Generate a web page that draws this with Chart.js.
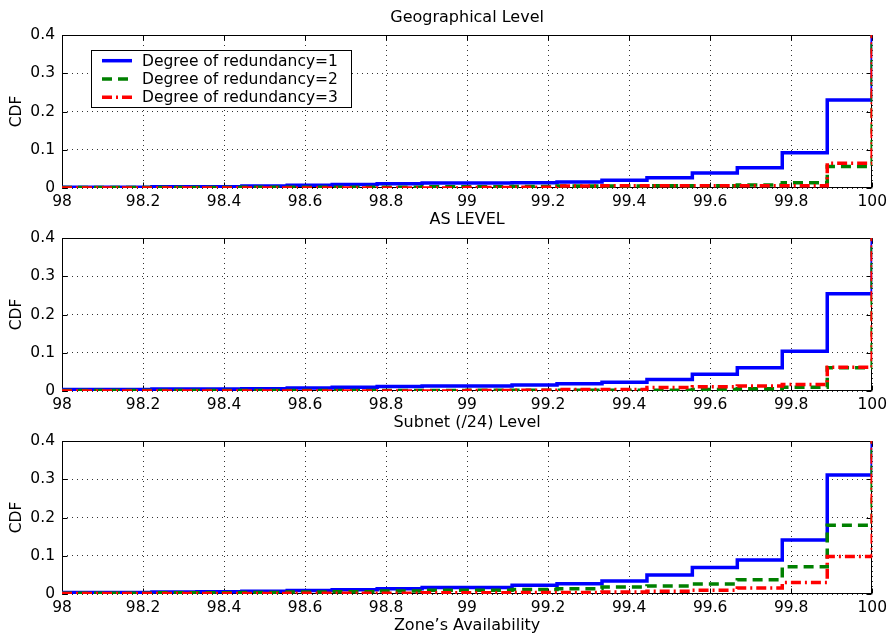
<!DOCTYPE html>
<html><head><meta charset="utf-8">
<script src="https://cdn.jsdelivr.net/npm/chart.js@4/dist/chart.umd.min.js"></script>
<style>
html,body{margin:0;padding:0;background:#fff;}
#wrap{position:relative;width:892px;height:635px;overflow:hidden;background:#fff;}
canvas{position:absolute;left:0;}
</style></head><body>
<div id="wrap">
<canvas id="c1" width="892" height="212" style="top:0px"></canvas>
<canvas id="c2" width="892" height="212" style="top:204px"></canvas>
<canvas id="c3" width="892" height="230" style="top:405px"></canvas>
</div>
<script>
// ---- data ----
const availability = [98.000, 98.111, 98.222, 98.333, 98.444, 98.556, 98.667, 98.778, 98.889, 99.000,
                      99.111, 99.222, 99.333, 99.444, 99.556, 99.667, 99.778, 99.889, 100.000];
const seriesLabels = ['Degree of redundancy=1', 'Degree of redundancy=2', 'Degree of redundancy=3'];

const geoR1 = [0.002,0.002,0.003,0.003,0.005,0.007,0.009,0.011,0.013,0.013,0.014,0.016,0.020,0.027,0.039,0.053,0.092,0.230,1];
const geoR2 = [0.001,0.001,0.001,0.001,0.002,0.002,0.002,0.002,0.003,0.003,0.004,0.005,0.005,0.006,0.006,0.008,0.014,0.056,1];
const geoR3 = [0,0,0,0,0,0,0,0,0,0.001,0.002,0.005,0.006,0.006,0.006,0.006,0.006,0.065,1];

const asR1 = [0.004,0.004,0.005,0.005,0.006,0.008,0.010,0.012,0.013,0.013,0.016,0.019,0.023,0.030,0.044,0.061,0.104,0.254,1];
const asR2 = [0.001,0.001,0.001,0.001,0.001,0.001,0.001,0.001,0.001,0.002,0.002,0.002,0.002,0.002,0.004,0.006,0.010,0.061,1];
const asR3 = [0,0,0,0,0,0,0,0,0,0.001,0.002,0.004,0.004,0.009,0.011,0.013,0.017,0.062,1];

const subnetR1 = [0.004,0.004,0.005,0.006,0.007,0.009,0.011,0.014,0.017,0.017,0.023,0.027,0.034,0.050,0.069,0.089,0.141,0.311,1];
const subnetR2 = [0.002,0.002,0.003,0.003,0.004,0.005,0.006,0.008,0.010,0.010,0.012,0.014,0.018,0.021,0.026,0.037,0.071,0.180,1];
const subnetR3 = [0.001,0.001,0.001,0.001,0.001,0.002,0.002,0.002,0.003,0.003,0.004,0.004,0.005,0.007,0.010,0.016,0.030,0.098,1];

const xTickValues = [98, 98.2, 98.4, 98.6, 98.8, 99, 99.2, 99.4, 99.6, 99.8, 100];
const xTickLabels = ['98','98.2','98.4','98.6','98.8','99','99.2','99.4','99.6','99.8','100'];
const yTickValues = [0, 0.1, 0.2, 0.3, 0.4];
const yTickLabels = ['0','0.1','0.2','0.3','0.4'];
const panelTitles = ['Geographical Level', 'AS LEVEL', 'Subnet (/24) Level'];
const yAxisTitle = 'CDF';
const xAxisTitle = 'Zone\u2019s Availability';

// ---- styles ----
const FONT = 'DejaVu Sans';
const seriesStyles = [
  {color:'#0000ff', width:3.5, dash:[], order:3},
  {color:'#008000', width:3.5, dash:[10,6], order:2},
  {color:'#ff0000', width:3.5, dash:[10,4,2,4], order:1}
];

const framePlugin = {
  id: 'frame',
  beforeDatasetsDraw(chart) {
    const {ctx, chartArea: a, scales} = chart;
    const x = scales.x, y = scales.y;
    ctx.save();
    ctx.strokeStyle = '#000';
    ctx.lineWidth = 1;
    const L = Math.round(a.left) + 0.5, R = Math.round(a.right) - 0.5;
    const T = Math.round(a.top) + 0.5, B = Math.round(a.bottom) - 0.5;
    ctx.strokeRect(L, T, R - L, B - T);
    ctx.beginPath();
    x.ticks.forEach(t => {
      const px = Math.round(x.getPixelForValue(t.value)) + 0.5;
      ctx.moveTo(px, B); ctx.lineTo(px, B - 5);
      ctx.moveTo(px, T); ctx.lineTo(px, T + 5);
    });
    y.ticks.forEach(t => {
      const py = Math.round(y.getPixelForValue(t.value)) + 0.5;
      ctx.moveTo(L, py); ctx.lineTo(L + 5, py);
      ctx.moveTo(R, py); ctx.lineTo(R - 5, py);
    });
    ctx.stroke();
    ctx.restore();
  }
};

const legendPlugin = {
  id: 'innerLegend',
  afterDraw(chart, args, opts) {
    if (!opts || !opts.show) return;
    const ctx = chart.ctx;
    ctx.save();
    ctx.fillStyle = '#fff';
    ctx.fillRect(opts.x, opts.y, opts.w, opts.h);
    ctx.strokeStyle = '#000';
    ctx.lineWidth = 1;
    ctx.strokeRect(opts.x + 0.5, opts.y + 0.5, opts.w, opts.h);
    ctx.font = opts.fontSize + 'px "' + FONT + '"';
    ctx.textBaseline = 'middle';
    ctx.textAlign = 'left';
    chart.data.datasets.forEach((ds, i) => {
      const ry = opts.y + opts.rowStart + i * opts.rowGap;
      ctx.strokeStyle = ds.borderColor;
      ctx.lineWidth = ds.borderWidth;
      ctx.setLineDash(ds.borderDash || []);
      ctx.beginPath();
      ctx.moveTo(opts.x + 11, ry);
      ctx.lineTo(opts.x + 41, ry);
      ctx.stroke();
      ctx.setLineDash([]);
      ctx.fillStyle = '#000';
      ctx.fillText(ds.label, opts.x + 51, ry + 1);
    });
    ctx.restore();
  }
};

function makeChart(id, title, series, cfg) {
  const datasets = series.map((vals, i) => ({
    label: seriesLabels[i],
    data: availability.map((x, j) => ({x: x, y: vals[j]})),
    borderColor: seriesStyles[i].color,
    backgroundColor: seriesStyles[i].color,
    borderWidth: seriesStyles[i].width,
    borderDash: seriesStyles[i].dash,
    order: seriesStyles[i].order,
    stepped: 'before',
    pointRadius: 0,
    fill: false,
    tension: 0
  }));
  return new Chart(document.getElementById(id), {
    type: 'line',
    data: {datasets},
    plugins: [framePlugin, legendPlugin],
    options: {
      responsive: false,
      animation: false,
      devicePixelRatio: 1,
      layout: {padding: {left: 0, right: 17, top: 0, bottom: 0}, autoPadding: false},
      plugins: {
        legend: {display: false},
        tooltip: {enabled: false},
        title: {display: false},
        innerLegend: cfg.legend || {show: false}
      },
      scales: {
        xTop: {
          type: 'linear', position: 'top', min: 98, max: 100,
          afterFit: s => { s.height = cfg.topHeight; },
          ticks: {display: false},
          grid: {display: false, drawTicks: false},
          border: {display: false},
          title: {
            display: true, text: title, color: '#000',
            font: {family: FONT, size: 16}, padding: {top: cfg.tTop, bottom: 0}
          }
        },
        x: {
          type: 'linear', position: 'bottom', min: 98, max: 100,
          afterBuildTicks: s => { s.ticks = xTickValues.map(v => ({value: v})); },
          afterFit: s => { s.height = cfg.xHeight; },
          ticks: {
            color: '#000', padding: 5, maxRotation: 0, autoSkip: false,
            font: {family: FONT, size: 15.5},
            callback: (v, i) => xTickLabels[i]
          },
          grid: {color: 'rgba(0,0,0,0.8)', lineWidth: 1, drawTicks: false},
          border: {display: false, dash: [1, 4]},
          title: {
            display: !!cfg.xTitle, text: xAxisTitle, color: '#000',
            font: {family: FONT, size: 16}, padding: {top: 0, bottom: 0}
          }
        },
        y: {
          type: 'linear', min: 0, max: 0.4,
          afterBuildTicks: s => { s.ticks = yTickValues.map(v => ({value: v})); },
          afterFit: s => { s.width = 62; },
          ticks: {
            color: '#000', padding: 7,
            font: {family: FONT, size: 15.5},
            callback: (v, i) => yTickLabels[i]
          },
          grid: {color: 'rgba(0,0,0,0.8)', lineWidth: 1, drawTicks: false},
          border: {display: false, dash: [1, 4]},
          title: {
            display: true, text: yAxisTitle, color: '#000',
            font: {family: FONT, size: 15.5}, padding: {top: 7.2, bottom: 0}
          }
        }
      }
    }
  });
}

makeChart('c1', panelTitles[0], [geoR1, geoR2, geoR3],
  {tTop: 7.9, topHeight: 35, xHeight: 24,
   legend: {show: true, x: 91, y: 50, w: 260, h: 57, rowStart: 10.7, rowGap: 18.3, fontSize: 15.5}});
makeChart('c2', panelTitles[1], [asR1, asR2, asR3], {tTop: 5.9, topHeight: 34, xHeight: 25});
makeChart('c3', panelTitles[2], [subnetR1, subnetR2, subnetR3], {tTop: 8.4, topHeight: 36, xHeight: 41, xTitle: true});
</script>
</body></html>
